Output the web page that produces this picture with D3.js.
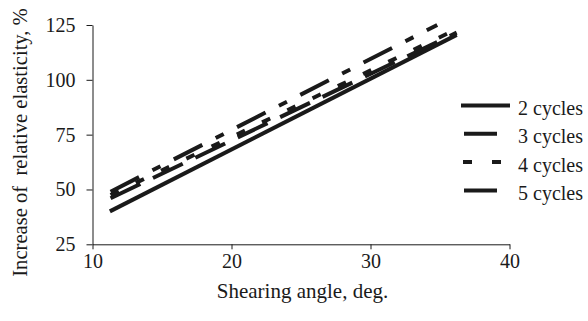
<!DOCTYPE html>
<html>
<head>
<meta charset="utf-8">
<script src="https://cdn.jsdelivr.net/npm/d3@7"></script>
<style>
  body { margin: 0; background: #fff; }
  svg { display: block; }
</style>
</head>
<body>
<div class="chart"></div>
<script>
// data (angle in deg, increase in %)
const seriesNames = ["2 cycles", "3 cycles", "4 cycles", "5 cycles"];
const angles2 = [11.25, 36.2];
const values2 = [40, 120.5];
const angles3 = [11.3, 36.2];
const values3 = [46, 121.5];
const angles4 = [11.3, 36.0];
const values4 = [47.5, 122.5];
const angles5 = [11.3, 34.8];
const values5 = [49, 125];
const xTicks = [10, 20, 30, 40];
const yTicks = [25, 50, 75, 100, 125];

const width = 588;
const height = 321;
const plotLeft = 92.5, plotRight = 509.5, plotTop = 25, plotBottom = 244.3;
const serif = "'Liberation Serif', 'Times New Roman', Times";
const ink = "#1a1a1a";

const svg = d3.select(".chart").append("svg")
    .attr("width", width)
    .attr("height", height);

const xScale = d3.scaleLinear().domain([10, 40]).range([plotLeft, plotRight]);
const yScale = d3.scaleLinear().domain([25, 125]).range([plotBottom, plotTop]);

// axes
const xAxisG = svg.append("g")
    .attr("transform", "translate(0," + plotBottom + ")")
    .call(d3.axisBottom(xScale).tickValues(xTicks).tickSize(5).tickSizeOuter(0).tickPadding(19));
xAxisG.selectAll("text").attr("dy", "0");
const yAxisG = svg.append("g")
    .attr("transform", "translate(" + plotLeft + ",0)")
    .call(d3.axisLeft(yScale).tickValues(yTicks).tickSize(6).tickSizeOuter(0).tickPadding(11));

[xAxisG, yAxisG].forEach(g => {
    g.attr("font-family", serif).attr("font-size", 20);
    g.selectAll("text").attr("fill", ink).style("font-family", serif);
    g.selectAll("line, .domain").attr("stroke", ink);
});

// axis titles
svg.append("text")
    .attr("text-anchor", "middle")
    .attr("x", 302.5)
    .attr("y", 298)
    .style("font-family", serif)
    .style("font-size", "21px")
    .attr("fill", ink)
    .text("Shearing angle, deg.");
svg.append("text")
    .attr("text-anchor", "middle")
    .attr("transform", "translate(27,142.5)rotate(-90)")
    .style("font-family", serif)
    .style("font-size", "20.6px")
    .style("white-space", "pre")
    .attr("fill", ink)
    .text("Increase of  relative elasticity, %");

// series
const series = [
    { name: seriesNames[0], xs: angles2, ys: values2, dash: null },
    { name: seriesNames[1], xs: angles3, ys: values3, dash: "33,14" },
    { name: seriesNames[2], xs: angles4, ys: values4, dash: "9,19" },
    { name: seriesNames[3], xs: angles5, ys: values5, dash: "32,15,9,15" }
];

const line = d3.line()
    .x(d => xScale(d[0]))
    .y(d => yScale(d[1]));

svg.append("g").selectAll("path")
    .data(series)
    .enter()
    .append("path")
    .attr("d", s => line(s.xs.map((x, i) => [x, s.ys[i]])))
    .attr("fill", "none")
    .attr("stroke", ink)
    .attr("stroke-width", 4)
    .attr("stroke-dasharray", s => s.dash);

// legend
const legend = svg.append("g").selectAll("g")
    .data(series)
    .enter()
    .append("g")
    .attr("transform", (s, i) => "translate(461," + (105.5 + i * 28.3) + ")");
legend.append("line")
    .attr("x1", 0).attr("x2", 49)
    .attr("stroke", ink)
    .attr("stroke-width", 4)
    .attr("stroke-dasharray", (s, i) => i === 0 ? null : (i === 2 ? "0,2,9,20,9,20" : "0,3,33,20"));
legend.append("text")
    .attr("x", 57)
    .attr("y", 9.5)
    .style("font-family", serif)
    .style("font-size", "20px")
    .attr("fill", ink)
    .text(s => s.name);
</script>
</body>
</html>
